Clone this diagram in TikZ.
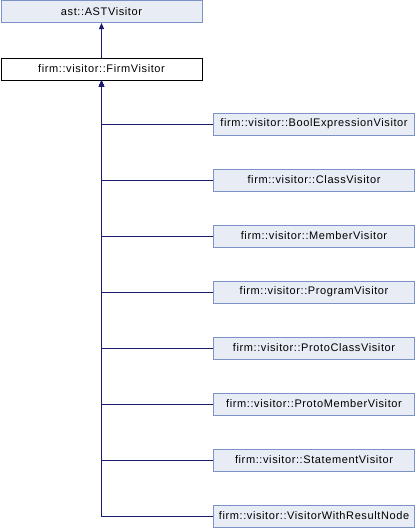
\documentclass[tikz,border=0pt]{standalone}
\usepackage{fontspec}
\setmainfont{Liberation Sans}
\newfontfamily\dfont[LetterSpace=5.5]{Liberation Sans}
\usetikzlibrary{arrows.meta}
\definecolor{boxfill}{HTML}{E8ECF5}
\definecolor{boxline}{HTML}{7B93C7}
\definecolor{edgecol}{HTML}{191970}
\tikzset{
  cls/.style={draw=boxline, fill=boxfill, line width=1pt, minimum width=201pt, minimum height=22pt, inner sep=0pt, font=\dfont\fontsize{11}{13}\selectfont},
  cur/.style={cls, draw=black, fill=white},
  inh/.style={draw=edgecol, line width=1pt, -{Triangle[length=6pt,width=5pt]}}
}
\begin{document}
\begin{tikzpicture}[x=1pt,y=-1pt]
\useasboundingbox (0,0) rectangle (416,528);
\node[cls] (ast) at (101.5,11.5) {ast::ASTVisitor};
\node[cur] (fv) at (101.5,69) {firm::visitor::FirmVisitor};
\draw[inh] (fv) -- (ast);
\foreach \name/\txt/\y in {
  c1/BoolExpressionVisitor/124,
  c2/ClassVisitor/180,
  c3/MemberVisitor/236,
  c4/ProgramVisitor/292,
  c5/ProtoClassVisitor/348,
  c6/ProtoMemberVisitor/404,
  c7/StatementVisitor/460,
  c8/VisitorWithResultNode/516}{
  \node[cls] (\name) at (314,\y) {firm::visitor::\txt};
  \draw[inh] (\name.west) -| (fv.south);
}
\end{tikzpicture}
\end{document}
